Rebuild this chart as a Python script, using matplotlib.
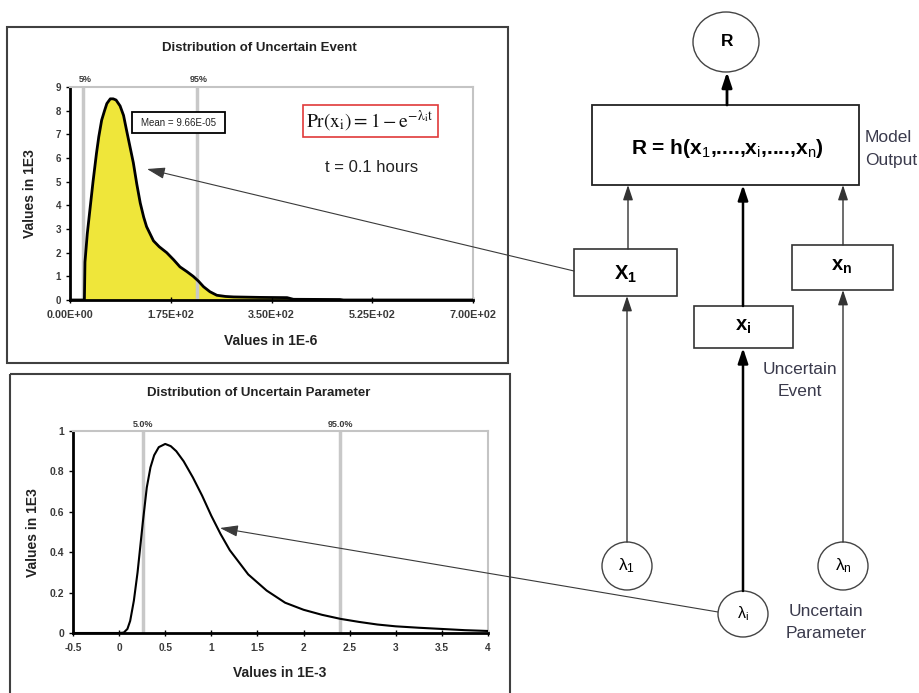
import matplotlib
matplotlib.use("Agg")
import matplotlib.pyplot as plt
from matplotlib.patches import Rectangle, Ellipse, FancyArrowPatch
from matplotlib.transforms import blended_transform_factory

plt.rcParams['font.family'] = ['Liberation Sans', 'DejaVu Sans']
plt.rcParams['mathtext.fontset'] = 'custom'
plt.rcParams['mathtext.rm'] = 'Liberation Sans'
plt.rcParams['mathtext.it'] = 'Liberation Sans'
plt.rcParams['mathtext.bf'] = 'Liberation Sans:bold'

# ---------------- data ----------------
# Distribution of uncertain event (x in 1E-6, y in 1E3)
event_x = [0, 22, 25, 26, 30, 35, 40, 46, 50, 55, 60, 64, 70, 75, 80, 87, 93, 98, 104,
           110, 116, 122, 128, 133, 140, 145, 155, 168, 180, 191, 203, 214, 223, 232,
           243, 255, 270, 284, 330, 377, 388, 469, 475, 700]
event_y = [0, 0, 0, 1.6, 2.8, 3.9, 5.0, 6.2, 6.9, 7.6, 8.0, 8.3, 8.5, 8.5, 8.45, 8.2,
           7.8, 7.2, 6.5, 5.8, 4.9, 4.1, 3.5, 3.1, 2.75, 2.5, 2.25, 2.0, 1.7, 1.4, 1.2,
           1.0, 0.8, 0.56, 0.35, 0.2, 0.15, 0.13, 0.11, 0.1, 0.03, 0.02, 0, 0]
event_xticks = [0, 175, 350, 525, 700]
event_xticklabels = ['0.00E+00', '1.75E+02', '3.50E+02', '5.25E+02', '7.00E+02']
event_yticks = [0, 1, 2, 3, 4, 5, 6, 7, 8, 9]
event_pct = [23, 220]
event_pct_labels = ['5%', '95%']

# Distribution of uncertain parameter (x in 1E-3, y in 1E3)
param_x = [-0.5, 0, 0.05, 0.09, 0.12, 0.16, 0.2, 0.23, 0.26, 0.3, 0.34, 0.38, 0.43,
           0.5, 0.56, 0.62, 0.7, 0.8, 0.9, 1.0, 1.1, 1.2, 1.3, 1.4, 1.5, 1.6, 1.8, 2.0,
           2.2, 2.4, 2.6, 2.8, 3.0, 3.25, 3.5, 3.75, 4.0]
param_y = [0, 0, 0.002, 0.02, 0.06, 0.16, 0.3, 0.43, 0.56, 0.72, 0.82, 0.88, 0.92,
           0.936, 0.925, 0.9, 0.85, 0.77, 0.68, 0.58, 0.49, 0.41, 0.35, 0.29, 0.25,
           0.21, 0.15, 0.115, 0.09, 0.07, 0.055, 0.042, 0.033, 0.026, 0.02, 0.014, 0.01]
param_xticks = [-0.5, 0, 0.5, 1, 1.5, 2, 2.5, 3, 3.5, 4]
param_xticklabels = ['-0.5', '0', '0.5', '1', '1.5', '2', '2.5', '3', '3.5', '4']
param_yticks = [0, 0.2, 0.4, 0.6, 0.8, 1]
param_yticklabels = ['0', '0.2', '0.4', '0.6', '0.8', '1']
param_pct = [0.26, 2.40]
param_pct_labels = ['5.0%', '95.0%']

W, H = 920, 693
fig = plt.figure(figsize=(W / 100, H / 100), dpi=100)


def px_rect(l, t, r, b):
    return [l / W, 1 - b / H, (r - l) / W, (b - t) / H]


def style_axes(ax, xsize, ysize):
    for s in ('left', 'bottom'):
        ax.spines[s].set_color('black')
        ax.spines[s].set_linewidth(2)
    for s in ('top', 'right'):
        ax.spines[s].set_color('#c4c4c4')
        ax.spines[s].set_linewidth(1.5)
    ax.tick_params(axis='both', colors='black', labelcolor='#3a3a3a',
                   length=3, width=1)
    ax.tick_params(axis='y', labelsize=ysize)
    ax.tick_params(axis='x', direction='inout', length=5, pad=5, labelsize=xsize)
    for lab in ax.get_xticklabels() + ax.get_yticklabels():
        lab.set_fontweight('bold')


# ---------------- top chart ----------------
ax1 = fig.add_axes(px_rect(70, 87, 473, 300))
ax1.fill_between(event_x, event_y, 0, color='#efe63a', lw=0, zorder=1)
for xv in event_pct:
    ax1.axvline(xv, color='#c8c8c8', lw=2.5, zorder=2)
ax1.plot(event_x, event_y, color='black', lw=2, zorder=3)
ax1.set_xlim(0, 700)
ax1.set_ylim(0, 9)
ax1.set_xticks(event_xticks)
ax1.set_xticklabels(event_xticklabels)
ax1.set_yticks(event_yticks)
tr1 = blended_transform_factory(ax1.transData, ax1.transAxes)
for xv, lab in zip(event_pct, event_pct_labels):
    ax1.text(xv + 3, 1.012, lab, transform=tr1, ha='center', va='bottom', fontsize=6.5,
             fontweight='bold', color='#3a3a3a')
style_axes(ax1, 7.8, 7)

# ---------------- bottom chart ----------------
ax2 = fig.add_axes(px_rect(73, 431, 488, 633))
for xv in param_pct:
    ax2.axvline(xv, color='#c8c8c8', lw=2.5, zorder=2)
ax2.plot(param_x, param_y, color='black', lw=1.5, zorder=3)
ax2.set_xlim(-0.5, 4)
ax2.set_ylim(0, 1)
ax2.set_xticks(param_xticks)
ax2.set_xticklabels(param_xticklabels)
ax2.set_yticks(param_yticks)
ax2.set_yticklabels(param_yticklabels)
tr2 = blended_transform_factory(ax2.transData, ax2.transAxes)
for xv, lab in zip(param_pct, param_pct_labels):
    ax2.text(xv, 1.01, lab, transform=tr2, ha='center', va='bottom', fontsize=6.5,
             fontweight='bold', color='#3a3a3a')
style_axes(ax2, 7.3, 7.5)

# ---------------- overlay (frames, annotations, diagram) ----------------
ov = fig.add_axes([0, 0, 1, 1])
ov.set_xlim(0, W)
ov.set_ylim(H, 0)
ov.axis('off')
ov.set_zorder(5)
ov.patch.set_alpha(0)

# panel frames
ov.add_patch(Rectangle((7, 27), 501, 336, fill=False, ec='#404040', lw=1.5))
ov.add_patch(Rectangle((10, 374), 500, 330, fill=False, ec='#404040', lw=1.5, clip_on=True))

# chart titles and axis labels
ov.text(259, 48, 'Distribution of Uncertain Event', ha='center', va='center',
        fontsize=9.5, fontweight='bold', color='#222222')
ov.text(271, 341, 'Values in 1E-6', ha='center', va='center', fontsize=10,
        fontweight='bold', color='#222222')
ov.text(30, 194, 'Values in 1E3', ha='center', va='center', rotation=90, fontsize=10,
        fontweight='bold', color='#222222')
ov.text(259, 393, 'Distribution of Uncertain Parameter', ha='center', va='center',
        fontsize=9.5, fontweight='bold', color='#222222')
ov.text(280, 673, 'Values in 1E-3', ha='center', va='center', fontsize=10,
        fontweight='bold', color='#222222')
ov.text(33, 533, 'Values in 1E3', ha='center', va='center', rotation=90, fontsize=10,
        fontweight='bold', color='#222222')

# mean box
ov.add_patch(Rectangle((132, 112), 93, 21, facecolor='white', ec='black', lw=1.3))
ov.text(178.5, 122.5, 'Mean = 9.66E-05', ha='center', va='center', fontsize=7,
        color='#222222')

# formula box
ov.add_patch(Rectangle((303, 105), 135, 32, facecolor='white', ec='#e03a3a', lw=1.2))
ov.text(370, 121, r'$\mathrm{Pr(x_i) = 1 - e^{-\lambda_i t}}$', ha='center', va='center',
        fontsize=14, math_fontfamily='stix', color='#111111')
ov.text(372, 167, 't = 0.1 hours', ha='center', va='center', fontsize=12,
        color='#222222')


def arrow(x0, y0, x1, y1, lw=1.0, color='#333333', hl=0.9, hw=0.3):
    ov.add_patch(FancyArrowPatch((x0, y0), (x1, y1),
                                 arrowstyle=f'-|>,head_length={hl},head_width={hw}',
                                 mutation_scale=10, lw=lw, color=color,
                                 shrinkA=0, shrinkB=0))


# long pointer arrows
arrow(574, 271, 147, 169, lw=0.8, color='#3a3a3a', hl=1.1, hw=0.35)
arrow(718, 612, 220, 528, lw=0.8, color='#3a3a3a', hl=1.1, hw=0.35)

# diagram shapes
ov.add_patch(Ellipse((726, 42), 66, 60, fill=False, ec='#444444', lw=1))
ov.add_patch(Rectangle((592, 105), 267, 80, fill=False, ec='#222222', lw=1.3))
ov.add_patch(Rectangle((574, 249), 103, 47, fill=False, ec='#333333', lw=1.2))
ov.add_patch(Rectangle((694, 306), 99, 42, fill=False, ec='#333333', lw=1.2))
ov.add_patch(Rectangle((792, 245), 101, 45, fill=False, ec='#333333', lw=1.2))
ov.add_patch(Ellipse((627, 566), 50, 48, fill=False, ec='#444444', lw=1))
ov.add_patch(Ellipse((743, 614), 50, 46, fill=False, ec='#444444', lw=1))
ov.add_patch(Ellipse((843, 566), 50, 48, fill=False, ec='#444444', lw=1))

# diagram arrows
arrow(727, 105, 727, 72, lw=2, color='black')
arrow(628, 249, 628, 185, lw=1, color='#333333')
arrow(743, 306, 743, 185, lw=1.8, color='black')
arrow(843, 245, 843, 185, lw=1, color='#333333')
arrow(627, 542, 627, 296, lw=1, color='#333333')
arrow(743, 591, 743, 348, lw=1.8, color='black')
arrow(843, 542, 843, 290, lw=1, color='#333333')

# diagram texts
ov.text(727, 41, 'R', ha='center', va='center', fontsize=12.5, fontweight='bold')
ov.text(727, 148, r'R = h(x$_1$,....,x$_i$,....,x$_n$)', ha='center', va='center',
        fontsize=15, fontweight='bold')
ov.text(626, 274, r'$\mathbf{X_1}$', ha='center', va='center', fontsize=14.5)
ov.text(743, 327, r'$\mathbf{x_i}$', ha='center', va='center', fontsize=14.5)
ov.text(842, 267, r'$\mathbf{x_n}$', ha='center', va='center', fontsize=14.5)
lab_c = '#3a3a4c'
ov.text(865, 137, 'Model', ha='left', va='center', fontsize=12.5, color=lab_c)
ov.text(865, 160, 'Output', ha='left', va='center', fontsize=12.5, color=lab_c)
ov.text(800, 369, 'Uncertain', ha='center', va='center', fontsize=12.5, color=lab_c)
ov.text(800, 391, 'Event', ha='center', va='center', fontsize=12.5, color=lab_c)
ov.text(826, 612, 'Uncertain', ha='center', va='center', fontsize=12.5, color=lab_c)
ov.text(826, 633, 'Parameter', ha='center', va='center', fontsize=12.5, color=lab_c)
ov.text(627, 566, r'λ$_1$', ha='center', va='center', fontsize=12.5)
ov.text(743, 614, r'λ$_i$', ha='center', va='center', fontsize=11.5)
ov.text(843, 566, r'λ$_n$', ha='center', va='center', fontsize=12.5)

fig.savefig('out.png', dpi=100)
